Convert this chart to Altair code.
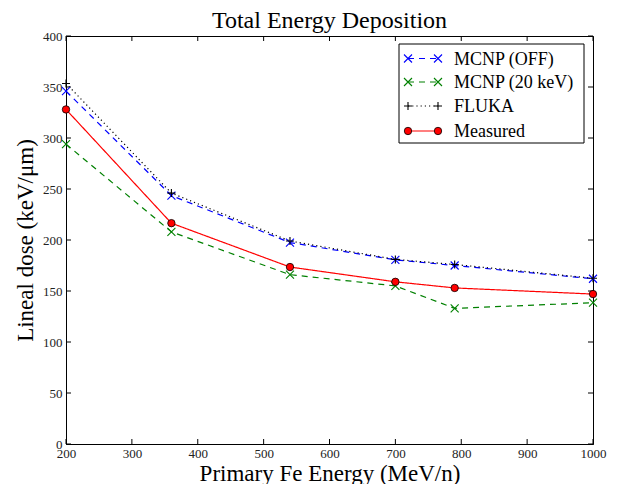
import altair as alt
import pandas as pd

# ---- data ----
energy = [200, 360, 540, 700, 790, 1000]
mcnp_off = [346, 243.5, 197.5, 180.5, 175, 162]
mcnp_20kev = [294, 208, 166, 155, 133, 138.5]
fluka = [353.5, 246, 199, 181, 176, 162.5]
measured = [328, 216.5, 173.5, 159, 153, 147]

series_names = ["MCNP (OFF)", "MCNP (20 keV)", "FLUKA", "Measured"]
series_values = [mcnp_off, mcnp_20kev, fluka, measured]
series_colors = ["#0000ff", "#008000", "#000000", "#ff0000"]
series_dashes = [[6, 5], [6, 5], [1.2, 3], [1, 0]]
series_markers = ["x", "x", "plus", "circle"]

x_ticks = [200, 300, 400, 500, 600, 700, 800, 900, 1000]
y_ticks = [0, 50, 100, 150, 200, 250, 300, 350, 400]

FONT = "Liberation Serif"
W, H = 527, 408
X_PATH = "M-1,-1L1,1M-1,1L1,-1"
PLUS_PATH = "M-1,0L1,0M0,-1L0,1"

rows = []
for name, vals in zip(series_names, series_values):
    for e, v in zip(energy, vals):
        rows.append({"series": name, "energy": e, "dose": v})
df = pd.DataFrame(rows)

x_enc = alt.X(
    "energy:Q",
    scale=alt.Scale(domain=[200, 1000], nice=False, zero=False),
    axis=alt.Axis(values=x_ticks, format="d", title="Primary Fe Energy (MeV/n)", ticks=False,
                  grid=False, labelPadding=3, titlePadding=2, labelOverlap=False,
                  labelFlush=False),
)
y_enc = alt.Y(
    "dose:Q",
    scale=alt.Scale(domain=[0, 400], nice=False, zero=True),
    axis=alt.Axis(values=y_ticks, format="d", title="Lineal dose (keV/\u03bcm)", ticks=False,
                  grid=False, labelPadding=4, titlePadding=5, labelOverlap=False,
                  labelFlush=False),
)

layers = []
# inward ticks on all four sides
xt = pd.DataFrame({"energy": x_ticks})
yt = pd.DataFrame({"dose": y_ticks})
tick_style = dict(color="black", strokeWidth=1)
layers.append(alt.Chart(xt).mark_rule(**tick_style).encode(x=x_enc, y=alt.value(H), y2=alt.value(H - 5)))
layers.append(alt.Chart(xt).mark_rule(**tick_style).encode(x=x_enc, y=alt.value(0), y2=alt.value(5)))
layers.append(alt.Chart(yt).mark_rule(**tick_style).encode(y=y_enc, x=alt.value(0), x2=alt.value(5)))
layers.append(alt.Chart(yt).mark_rule(**tick_style).encode(y=y_enc, x=alt.value(W), x2=alt.value(W - 5)))

# series lines and markers
for name, color, dash, marker in zip(series_names, series_colors, series_dashes, series_markers):
    sub = df[df["series"] == name]
    layers.append(
        alt.Chart(sub).mark_line(color=color, strokeWidth=1.2, strokeDash=dash).encode(x=x_enc, y=y_enc)
    )
for name, color, dash, marker in zip(series_names, series_colors, series_dashes, series_markers):
    sub = df[df["series"] == name]
    if marker == "circle":
        pt = alt.Chart(sub).mark_point(shape="circle", filled=True, fill=color, stroke="black",
                                       strokeWidth=0.8, size=55, opacity=1)
    else:
        path = X_PATH if marker == "x" else PLUS_PATH
        pt = alt.Chart(sub).mark_point(shape=path, filled=False, stroke=color, strokeWidth=1.1,
                                       size=64, opacity=1)
    layers.append(pt.encode(x=x_enc, y=y_enc))

# legend (drawn manually to mimic marker-line-marker entries)
box_df = pd.DataFrame({"k": [0]})
layers.append(
    alt.Chart(box_df).mark_rect(fill="white", stroke="black", strokeWidth=1).encode(
        x=alt.value(333), x2=alt.value(518), y=alt.value(8), y2=alt.value(107)
    )
)
row_y = [22.5, 46, 70, 95]
for name, color, dash, marker, ry in zip(series_names, series_colors, series_dashes, series_markers, row_y):
    ldf = pd.DataFrame({"label": [name]})
    layers.append(
        alt.Chart(ldf).mark_rule(color=color, strokeWidth=1.2, strokeDash=dash).encode(
            x=alt.value(342), x2=alt.value(372), y=alt.value(ry)
        )
    )
    for px in (342, 372):
        if marker == "circle":
            pt = alt.Chart(ldf).mark_point(shape="circle", filled=True, fill=color, stroke="black",
                                           strokeWidth=0.8, size=55, opacity=1)
        else:
            path = X_PATH if marker == "x" else PLUS_PATH
            pt = alt.Chart(ldf).mark_point(shape=path, filled=False, stroke=color, strokeWidth=1.1,
                                           size=64, opacity=1)
        layers.append(pt.encode(x=alt.value(px), y=alt.value(ry)))
    layers.append(
        alt.Chart(ldf).mark_text(align="left", baseline="middle", font=FONT, fontSize=18,
                                 color="black").encode(
            x=alt.value(388), y=alt.value(ry + 1), text="label:N"
        )
    )

chart = (
    alt.layer(*layers)
    .properties(
        width=W,
        height=H,
        autosize=alt.AutoSizeParams(type="none"),
        padding={"left": 58, "top": 28, "right": 20, "bottom": 40},
        title=alt.TitleParams("Total Energy Deposition", font=FONT, fontSize=24,
                              fontWeight="normal", anchor="middle", offset=-3, color="black"),
    )
    .configure_view(stroke="black", strokeWidth=1)
    .configure_axis(labelFont=FONT, labelFontSize=13, labelColor="#222", titleFont=FONT,
                    titleFontSize=23, titleFontWeight="normal", titleColor="black",
                    domainColor="black", domainWidth=1)
)

chart.save("out.html", embed_options={"renderer": "svg", "actions": False})
